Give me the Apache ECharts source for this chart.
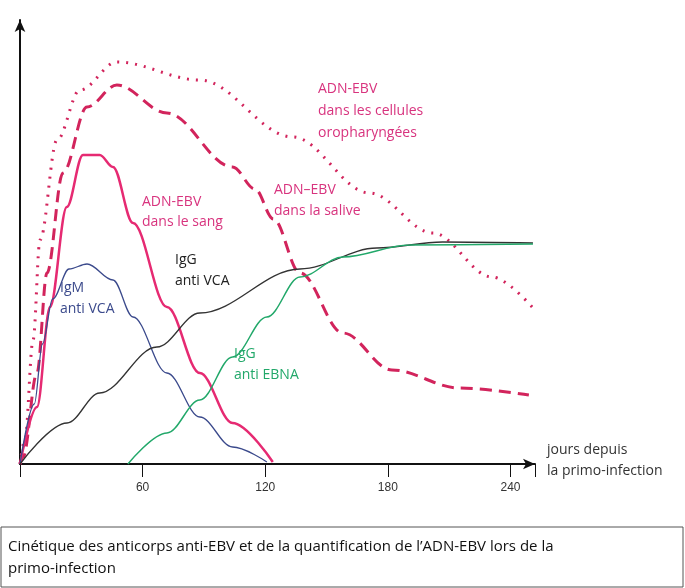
<!DOCTYPE html>
<html>
<head>
<meta charset="utf-8">
<script src="https://cdn.jsdelivr.net/npm/echarts@6/dist/echarts.min.js"></script>
<style>html,body{margin:0;padding:0;background:#fff}#c{width:685px;height:588px}</style>
</head>
<body>
<div id="c"></div>
<script>
// days since primo-infection vs. relative level (arbitrary units)
var oroData = [[0,0],[2.4,24],[6.4,124],[9.8,224],[18.1,324],[29.3,374],[47.4,402],[88,384],[133.5,327],[171,271],[202,231],[231,187],[251,156]];
var saliveData = [[0,0],[1.5,7],[8.3,91],[13.2,191],[21,291],[32.8,357],[47.4,379],[71.9,351],[104,297],[115,275],[124,245],[137,191],[158,131],[182,94],[215,76],[249,69]];
var sangData = [[0,0],[8.3,57],[14.7,157],[22.9,257],[30.8,309],[39,309],[45.5,297],[55.3,241],[71.9,157],[88,91],[104,41],[123.7,2]];
var igmData = [[0,0],[7,60],[11,120],[16,165],[24,195],[32.8,200],[45.5,184],[55.3,147],[71.9,91],[88,47],[104,17],[120.8,2]];
var iggVcaData = [[0,0],[23,41],[39,71],[67,117],[88,151],[137,195],[174.6,216],[206.8,222],[251,221]];
var iggEbnaData = [[52.8,0],[71.9,31],[88,64],[104,107],[120.8,147],[137,187],[158,207],[190.7,219],[251,220]];
var xTicks = [60, 120, 180, 240];

function line(data, color, width, type) {
    return {
        type: 'line', data: data, smooth: 0.35, smoothMonotone: 'x', showSymbol: false,
        lineStyle: {color: color, width: width, type: type}
    };
}

var pink = '#d8337e';
var font = '14px "Open Sans", sans-serif';

var chart = echarts.init(document.getElementById('c'));
chart.setOption({
    backgroundColor: '#fff',
    animation: false,
    grid: {left: 20, right: 150, top: 20, bottom: 124},
    xAxis: {
        type: 'value', min: 0, max: 252, interval: 60,
        axisLine: {symbol: ['none', 'arrow'], symbolSize: [8, 12], lineStyle: {color: '#111', width: 2}},
        axisTick: {show: true, length: 13, lineStyle: {color: '#111'}},
        axisLabel: {color: '#333', fontSize: 12, margin: 18, formatter: function (v) { return xTicks.indexOf(v) >= 0 ? v : ''; }},
        splitLine: {show: false}
    },
    yAxis: {
        type: 'value', min: 0, max: 444,
        axisLine: {show: true, symbol: ['none', 'arrow'], symbolSize: [8, 12], lineStyle: {color: '#111', width: 2}},
        axisTick: {show: false}, axisLabel: {show: false}, splitLine: {show: false}
    },
    series: [
        line(oroData, '#d2245c', 3, [2, 7]),
        line(saliveData, '#d2245c', 3, [12, 7]),
        line(sangData, '#e62a72', 2.5, 'solid'),
        line(igmData, '#3b4a8c', 1.3, 'solid'),
        line(iggVcaData, '#333', 1.3, 'solid'),
        line(iggEbnaData, '#22a86a', 1.5, 'solid')
    ],
    graphic: [
        {type: 'text', left: 318, top: 78, style: {text: 'ADN-EBV\ndans les cellules\noropharyngées', fill: pink, font: font, align: 'center', lineHeight: 22}},
        {type: 'text', left: 274, top: 180, style: {text: 'ADN–EBV\ndans la salive', fill: pink, font: font, lineHeight: 21}},
        {type: 'text', left: 142, top: 192, style: {text: 'ADN-EBV\ndans le sang', fill: pink, font: font, lineHeight: 20}},
        {type: 'text', left: 60, top: 278, style: {text: 'IgM\nanti VCA', fill: '#3b4a8c', font: font, align: 'center', lineHeight: 21}},
        {type: 'text', left: 175, top: 250, style: {text: 'IgG\nanti VCA', fill: '#222', font: font, align: 'center', lineHeight: 21}},
        {type: 'text', left: 234, top: 344, style: {text: 'IgG\nanti EBNA', fill: '#22a86a', font: font, align: 'center', lineHeight: 21}},
        {type: 'text', left: 547, top: 440, style: {text: 'jours depuis\nla primo-infection', fill: '#333', font: font, lineHeight: 21}},
        {type: 'rect', shape: {x: 1, y: 527, width: 682, height: 60}, style: {fill: 'none', stroke: '#555', lineWidth: 1}},
        {type: 'text', left: 8, top: 536, style: {text: 'Cinétique des anticorps anti-EBV et de la quantification de l’ADN-EBV lors de la\nprimo-infection', fill: '#111', font: '15px "Open Sans", sans-serif', lineHeight: 22}}
    ]
});
</script>
</body>
</html>
